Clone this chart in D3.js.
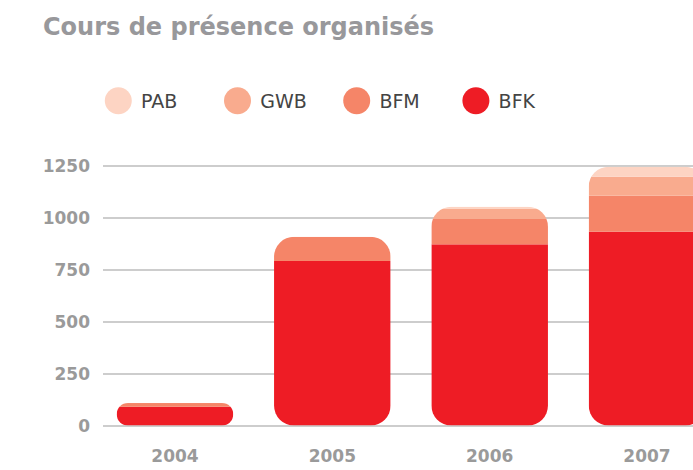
<!DOCTYPE html>
<html>
<head>
<meta charset="utf-8">
<script src="https://cdn.jsdelivr.net/npm/d3@7"></script>
<style>
  html, body { margin: 0; padding: 0; background: #fff; }
  svg { display: block; }
</style>
</head>
<body>
<svg id="chart" width="693" height="470"></svg>
<script>
const title = "Cours de présence organisés";
const years = ["2004", "2005", "2006", "2007"];
const seriesKeys = ["BFK", "BFM", "GWB", "PAB"];          // stacked bottom to top
const legendOrder = ["PAB", "GWB", "BFM", "BFK"];
const BFK = [90, 791, 871, 932];
const BFM = [18, 116, 122, 173];
const GWB = [0, 0, 50, 91];
const PAB = [0, 0, 9, 48];
const yTicks = [0, 250, 500, 750, 1000, 1250];
const colors = { PAB: "#fdd4c3", GWB: "#f9ab8e", BFM: "#f58568", BFK: "#ee1c25" };

const rows = years.map((y, i) => ({ year: y, BFK: BFK[i], BFM: BFM[i], GWB: GWB[i], PAB: PAB[i] }));

const svg = d3.select("#chart");
const W = 693, H = 470;

const y = d3.scaleLinear().domain([0, 1250]).range([425.5, 165.5]);
const x = d3.scaleBand().domain(years).range([103, 719]).paddingInner(0.259).paddingOuter(0.087);

// title
svg.append("text")
  .attr("x", 43).attr("y", 35)
  .attr("font-family", "DejaVu Sans, sans-serif")
  .attr("font-weight", "bold")
  .attr("font-size", 24)
  .attr("fill", "#98989b")
  .text(title);

// legend
const lg = svg.append("g");
legendOrder.forEach((k, i) => {
  const cx = 118.3 + i * 119.2;
  lg.append("circle").attr("cx", cx).attr("cy", 100.7).attr("r", 13.5).attr("fill", colors[k]);
  lg.append("text").attr("x", cx + 22.7).attr("y", 108)
    .attr("font-family", "DejaVu Sans, sans-serif")
    .attr("font-size", 19)
    .attr("fill", "#444")
    .text(k);
});

// grid + y axis
const yAxis = d3.axisLeft(y).tickValues(yTicks).tickFormat(d3.format("d"))
  .tickSize(-(W - 103)).tickPadding(13);
const ga = svg.append("g").attr("transform", "translate(103,0)").call(yAxis);
ga.select(".domain").remove();
ga.selectAll(".tick line").attr("stroke", "#bdbdbd").attr("stroke-width", 1.5);
ga.selectAll(".tick text")
  .attr("font-family", "DejaVu Sans, sans-serif")
  .attr("font-weight", "bold")
  .attr("font-size", 17)
  .attr("fill", "#9a9a9a")
  .attr("dy", "0.36em");

// bars
const stack = d3.stack().keys(seriesKeys);
const stacked = stack(rows);
const defs = svg.append("defs");
const R = 20;
rows.forEach((d, i) => {
  const total = d3.sum(seriesKeys, k => d[k]);
  const top = y(total), bot = y(0);
  const h = bot - top;
  const r = Math.min(R, h / 2);
  defs.append("clipPath").attr("id", "clip" + i)
    .append("rect")
    .attr("x", x(d.year)).attr("y", top)
    .attr("width", x.bandwidth()).attr("height", h)
    .attr("rx", r).attr("ry", r);
});

const bars = svg.append("g");
stacked.forEach(layer => {
  bars.append("g").attr("fill", colors[layer.key])
    .selectAll("rect").data(layer).join("rect")
    .attr("clip-path", (d, i) => `url(#clip${i})`)
    .attr("x", d => x(d.data.year))
    .attr("y", d => y(d[1]))
    .attr("width", x.bandwidth())
    .attr("height", d => Math.max(0, y(d[0]) - y(d[1])));
});

// x axis labels
const xAxis = d3.axisBottom(x).tickSize(0).tickPadding(0);
const gx = svg.append("g").attr("transform", "translate(0,462)").call(xAxis);
gx.select(".domain").remove();
gx.selectAll(".tick text")
  .attr("dy", 0)
  .attr("font-family", "DejaVu Sans, sans-serif")
  .attr("font-weight", "bold")
  .attr("font-size", 17)
  .attr("fill", "#9a9a9a");
</script>
</body>
</html>
